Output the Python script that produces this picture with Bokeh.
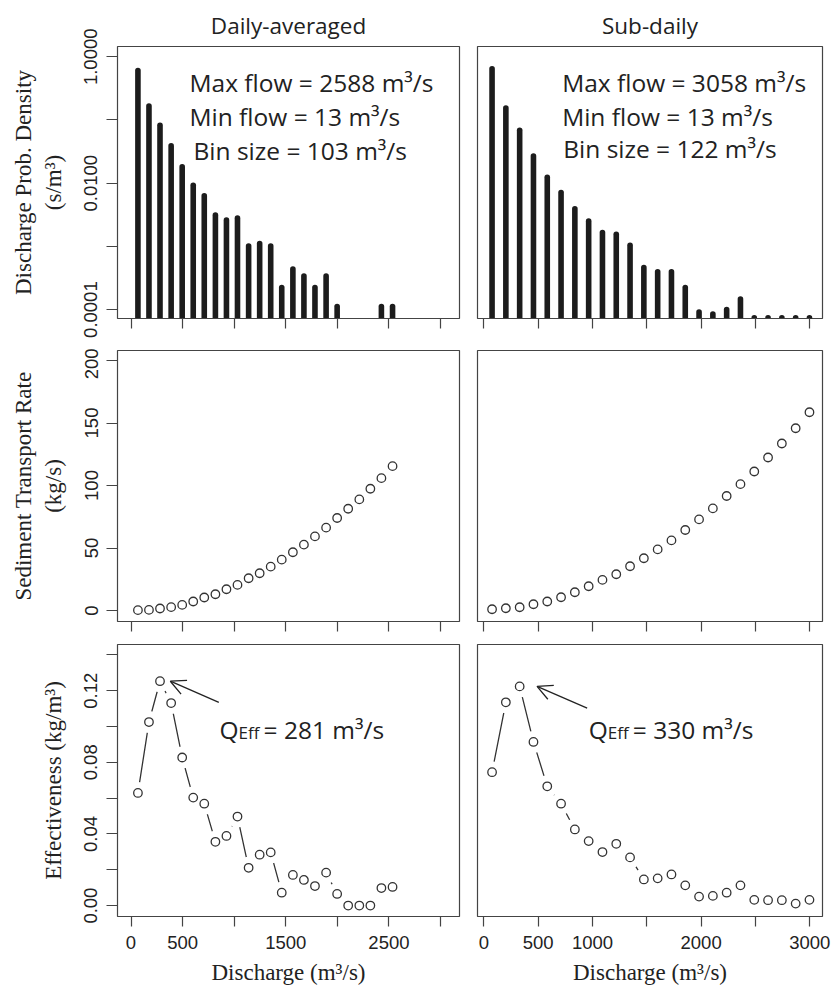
from bokeh.plotting import figure
from bokeh.layouts import column, row
from bokeh.models import Range1d, FixedTicker, Label, Arrow, OpenHead, PrintfTickFormatter
from bokeh.embed import file_html
from bokeh.resources import INLINE

# ---------------- data ----------------
col_titles = ["Daily-averaged", "Sub-daily"]

q_daily = [67, 174, 281, 389, 496, 603, 710, 818, 925, 1032, 1140, 1247,
           1354, 1461, 1569, 1676, 1783, 1891, 1998, 2105, 2213, 2320, 2427, 2535]
pdf_daily = [0.608, 0.166, 0.0822, 0.0389, 0.0181, 0.00929, 0.00631, 0.00312,
             0.00260, 0.00280, 0.00101, 0.00111, 0.00101, 0.000223, 0.000438,
             0.000340, 0.000223, 0.000340, 0.000112, 0.0, 0.0, 0.0, 0.000112, 0.000112]
sed_daily = [0.3, 0.5, 1.6, 2.7, 4.5, 7.2, 10.4, 13.0, 17.0, 20.5, 25.8, 29.8,
             35.1, 40.7, 46.6, 52.7, 59.3, 66.3, 74.0, 81.4, 88.9, 97.4, 105.9, 115.5]
eff_daily = [0.0629, 0.1025, 0.1253, 0.1131, 0.0827, 0.0603, 0.0569, 0.0356,
             0.0389, 0.0497, 0.0211, 0.0284, 0.0297, 0.0072, 0.0171, 0.0143,
             0.0109, 0.0184, 0.0065, 0.0, 0.0, 0.0, 0.0098, 0.0104]

q_sub = [76, 203, 330, 457, 584, 711, 838, 965, 1092, 1219, 1346, 1473,
         1600, 1727, 1854, 1981, 2108, 2235, 2362, 2489, 2616, 2743, 2870, 2997]
pdf_sub = [0.647, 0.155, 0.0686, 0.0270, 0.0124, 0.00712, 0.00394, 0.00251,
           0.00166, 0.00156, 0.00104, 0.000461, 0.000398, 0.000398, 0.000223,
           0.0000918, 0.0000853, 0.000100, 0.000147, 0.000074, 0.000074,
           0.000074, 0.000074, 0.000074]
sed_sub = [1.0, 1.8, 2.6, 5.0, 7.2, 10.6, 14.6, 19.4, 24.5, 29.0, 35.4, 41.8,
           48.9, 56.1, 64.4, 72.9, 81.7, 91.6, 101.1, 111.2, 122.4, 133.6, 145.8, 158.6]
eff_sub = [0.0745, 0.1135, 0.1224, 0.0914, 0.0666, 0.0569, 0.0425, 0.0360,
           0.0299, 0.0345, 0.0269, 0.0146, 0.0152, 0.0174, 0.0113, 0.0050,
           0.0054, 0.0072, 0.0113, 0.0032, 0.0030, 0.0030, 0.0011, 0.0032]

info_daily = ["Max flow = 2588 m\u00b3/s", "Min flow = 13 m\u00b3/s", "Bin size = 103 m\u00b3/s"]
info_sub = ["Max flow = 3058 m\u00b3/s", "Min flow = 13 m\u00b3/s", "Bin size = 122 m\u00b3/s"]
qeff_daily_text = "= 281 m\u00b3/s"
qeff_sub_text = "= 330 m\u00b3/s"

# labelled ticks and unlabelled (minor-styled) ticks
x_ticks_daily = [0, 500, 1500, 2500]
x_minor_daily = [1000, 2000, 3000]
x_ticks_sub = [0, 500, 1000, 2000, 3000]
x_minor_sub = [1500, 2500]
x_all_ticks = [0, 500, 1000, 1500, 2000, 2500, 3000]
pdf_ticks = [0.0001, 0.01, 1.0]
pdf_minor = [0.001, 0.1]
sed_ticks = [0, 50, 100, 150, 200]
eff_ticks = [0.0, 0.04, 0.08, 0.12]
eff_minor = [0.02, 0.06, 0.10, 0.14]

y_title_pdf = "Discharge Prob. Density\n(s/m\u00b3)"
y_title_sed = "Sediment Transport Rate\n(kg/s)"
y_title_eff = "Effectiveness (kg/m\u00b3)"
x_title = "Discharge (m\u00b3/s)"

# ---------------- style ----------------
INK = "#222222"
AX = "#444444"
TICK_FONT = "Liberation Sans"
SERIF = "Liberation Serif"
SANS = "Open Sans"

LEFT_W, RIGHT_W = 461, 371
ROW_H = [348, 295, 348]
BORDERS = [dict(top=46, bottom=30), dict(top=2, bottom=22), dict(top=1, bottom=75)]
XR = [(-131, 3184), (-58, 3117)]
YR = [(7.23e-5, 1.455), (-8.8, 208.0), (-0.0061, 0.1458)]


def style_ticks(a, out):
    a.axis_line_color = AX
    a.axis_line_width = 1.0
    a.major_tick_line_color = AX
    a.major_tick_line_width = 1.2
    a.major_tick_in = 0
    a.major_tick_out = out
    a.minor_tick_line_color = AX
    a.minor_tick_line_width = 1.2
    a.minor_tick_in = 0
    a.minor_tick_out = out


def make_fig(c, r):
    left = c == 0
    b = BORDERS[r]
    kw = dict(title=col_titles[c]) if r == 0 else dict(title=None)
    p = figure(width=LEFT_W if left else RIGHT_W, height=ROW_H[r],
               x_range=Range1d(*XR[c]), y_range=Range1d(*YR[r]),
               y_axis_type="log" if r == 0 else "linear",
               y_axis_location="left" if left else None,
               output_backend="svg", toolbar_location=None, tools="",
               min_border_left=117 if left else 16,
               min_border_right=2 if left else 10,
               min_border_top=b["top"], min_border_bottom=b["bottom"], **kw)
    p.background_fill_color = "white"
    p.border_fill_color = "white"
    p.outline_line_color = AX
    p.outline_line_width = 1.2
    p.xgrid.visible = False
    p.ygrid.visible = False

    xa = p.xaxis[0]
    style_ticks(xa, 10)
    xa.bounds = (x_all_ticks[0], x_all_ticks[-1])
    xa.major_label_standoff = 9
    xa.major_label_text_font = TICK_FONT
    xa.major_label_text_font_size = "18.5px"
    if r == 2:
        if left:
            xa.ticker = FixedTicker(ticks=x_ticks_daily, minor_ticks=x_minor_daily)
        else:
            xa.ticker = FixedTicker(ticks=x_ticks_sub, minor_ticks=x_minor_sub)
        xa.major_label_text_color = INK
        xa.axis_label = x_title
        xa.axis_label_text_font = SERIF
        xa.axis_label_text_font_size = "23px"
        xa.axis_label_text_font_style = "normal"
        xa.axis_label_text_color = INK
        xa.axis_label_standoff = 8
    else:
        xa.ticker = FixedTicker(ticks=x_all_ticks)
        xa.major_label_text_color = None

    if left:
        ya = p.yaxis[0]
        style_ticks(ya, 11)
        if r == 0:
            ya.ticker = FixedTicker(ticks=pdf_ticks, minor_ticks=pdf_minor)
            ya.formatter = PrintfTickFormatter(format="%.4f")
            ya.bounds = (pdf_ticks[0], pdf_ticks[-1])
            ya.axis_label = y_title_pdf
        elif r == 1:
            ya.ticker = FixedTicker(ticks=sed_ticks)
            ya.bounds = (sed_ticks[0], sed_ticks[-1])
            ya.axis_label = y_title_sed
        else:
            ya.ticker = FixedTicker(ticks=eff_ticks, minor_ticks=eff_minor)
            ya.formatter = PrintfTickFormatter(format="%.2f")
            ya.bounds = (eff_ticks[0], eff_minor[-1])
            ya.axis_label = y_title_eff
        ya.major_label_orientation = "parallel"
        ya.major_label_standoff = 9
        ya.major_label_text_font = TICK_FONT
        ya.major_label_text_font_size = "18.5px"
        ya.major_label_text_color = INK
        ya.axis_label_text_font = SERIF
        ya.axis_label_text_font_size = "23px"
        ya.axis_label_text_font_style = "normal"
        ya.axis_label_text_color = INK
        ya.axis_label_standoff = 16

    if r == 0:
        p.title.align = "center"
        p.title.text_font = SANS
        p.title.text_font_size = "22.5px"
        p.title.text_font_style = "normal"
        p.title.text_color = INK
        p.title.standoff = 11
    return p


figs = [[make_fig(c, r) for c in range(2)] for r in range(3)]

series = [(q_daily, pdf_daily, sed_daily, eff_daily, info_daily, qeff_daily_text),
          (q_sub, pdf_sub, sed_sub, eff_sub, info_sub, qeff_sub_text)]

# text placement (data units of each panel) and arrow tip offsets
info_pos = [[(567, 0.393), (567, 0.113), (606, 0.0328)],
            [(721, 0.393), (721, 0.113), (731, 0.0353)]]
qeff_anchor = [(858, 0.0985), (966, 0.0985)]
arrow_start = [(851, 0.1135), (951, 0.1103)]
arrow_dx = [100, 160]

for c, (q, pdf, sed, eff, info, qtxt) in enumerate(series):
    # --- top: probability density as thick vertical bars (log scale)
    p = figs[0][c]
    qb = [x for x, v in zip(q, pdf) if v > 0]
    vb = [v for v in pdf if v > 0]
    p.segment(x0=qb, y0=[1e-6] * len(qb), x1=qb, y1=vb,
              line_width=5.6, line_color="#1c1c1c", line_cap="round")
    for (tx, ty), s in zip(info_pos[c], info):
        p.add_layout(Label(x=tx, y=ty, text=s, text_font=SANS, text_font_size="24.5px",
                           text_color=INK, text_baseline="alphabetic", text_align="left"))

    # --- middle: sediment transport rate
    p = figs[1][c]
    p.scatter(q, sed, marker="circle", size=8.5, fill_color=None,
              line_color="#333333", line_width=1.3)

    # --- bottom: effectiveness (points joined by gapped lines)
    p = figs[2][c]
    p.line(q, eff, line_color="#333333", line_width=1.3)
    p.scatter(q, eff, marker="circle", size=22, fill_color="white", line_color=None)
    p.scatter(q, eff, marker="circle", size=8.5, fill_color="white",
              line_color="#333333", line_width=1.3)

    k = max(range(len(eff)), key=lambda i: eff[i])
    ax, ay = arrow_start[c]
    p.add_layout(Arrow(end=OpenHead(size=15, line_width=1.3, line_color=INK),
                       x_start=ax, y_start=ay, x_end=q[k] + arrow_dx[c], y_end=eff[k],
                       line_width=1.3, line_color=INK))
    gx, gy = qeff_anchor[c]
    p.add_layout(Label(x=gx, y=gy, text="Q", text_font=SANS, text_font_size="24.5px",
                       text_color=INK, text_baseline="alphabetic"))
    p.add_layout(Label(x=gx, y=gy, x_offset=19, y_offset=-3, text="Eff", text_font=SANS,
                       text_font_size="17px", text_color=INK, text_baseline="alphabetic"))
    p.add_layout(Label(x=gx, y=gy, x_offset=44, text=qtxt, text_font=SANS,
                       text_font_size="24.5px", text_color=INK, text_baseline="alphabetic"))

layout = column(*[row(*rw, spacing=0) for rw in figs], spacing=0)

open("out.html", "w").write(file_html(layout, INLINE))
